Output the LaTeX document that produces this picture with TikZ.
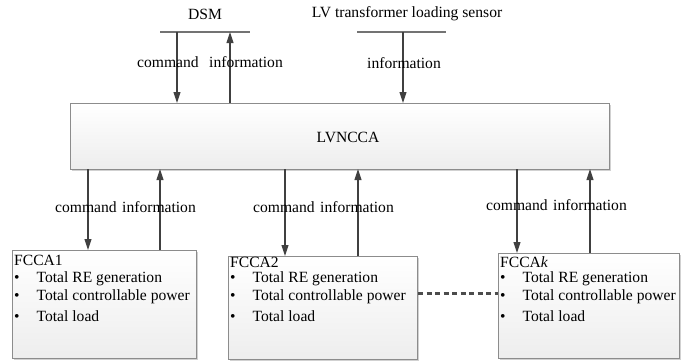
\documentclass[tikz,border=0pt]{standalone}
\usepackage{fontspec}
\setmainfont{Liberation Serif}
\usetikzlibrary{arrows.meta,shadows}
\begin{document}
\begin{tikzpicture}[x=1pt,y=-1pt,
  every node/.style={font=\fontsize{15.6}{18}\selectfont, inner sep=0pt},
  panel/.style={draw=black!45, line width=1pt, top color=white, bottom color=black!7,
    drop shadow={shadow xshift=1.2pt, shadow yshift=-1.2pt, fill=black!30, opacity=0.6}},
  link/.style={draw=black!75, line width=1.1pt, -{Triangle[length=11pt,width=7pt]}},
  bar/.style={draw=black!55, line width=1.2pt},
  lbl/.style={anchor=center},
  item/.style={anchor=west}
]
\useasboundingbox (0,0) rectangle (688,362);

% sources on top
\node (dsm) at (205,14) {DSM};
\node (lvs) at (407,14) {LV transformer loading sensor};
\coordinate (dsmL) at (160,32);
\coordinate (dsmR) at (250,32);
\coordinate (lvsL) at (357,32);
\coordinate (lvsR) at (446,32);
\draw[bar] (dsmL) -- (dsmR);
\draw[bar] (lvsL) -- (lvsR);

% central agent
\node[panel, minimum width=539pt, minimum height=66pt, anchor=north west] (lv) at (70,103) {};
\node (lvtxt) at (348,137) {LVNCCA};

% top links
\coordinate (dsmC) at (177,32);
\coordinate (dsmI) at (230,32);
\coordinate (lvsC) at (403,32);
\draw[link] (dsmC) -- (dsmC |- lv.north);
\draw[link] (dsmI |- lv.north) -- (dsmI);
\draw[link] (lvsC) -- (lvsC |- lv.north);
\node[lbl] (c0) at (168,62) {command};
\node[lbl] (i0) at (246,62) {information};
\node[lbl] (i1) at (404,63) {information};

% feeder agents
\node[panel, minimum width=184pt, minimum height=108pt, anchor=north west] (f1) at (12,250) {};
\node[panel, minimum width=189pt, minimum height=103pt, anchor=north west] (f2) at (228,256) {};
\node[panel, minimum width=181pt, minimum height=105pt, anchor=north west] (fk) at (498,253) {};

% contents of the feeder agents (rows share the same heights)
\foreach \b/\n/\ty in {f1/1/260, f2/2/262, fk/{\textit{k}}/262}{
  \coordinate (\b-x) at ([xshift=2pt]\b.west);
  \coordinate (\b-r0) at (0,\ty);
  \coordinate (\b-r1) at (0,279);
  \coordinate (\b-r2) at (0,297);
  \coordinate (\b-r3) at (0,316);
  \node[item] (\b-t) at (\b-x |- \b-r0) {FCCA\n};
  \node[item] (\b-a) at (\b-x |- \b-r1) {\textbullet\hspace{17pt}Total RE generation};
  \node[item] (\b-b) at (\b-x |- \b-r2) {\textbullet\hspace{17pt}Total controllable power};
  \node[item] (\b-c) at (\b-x |- \b-r3) {\textbullet\hspace{17pt}Total load};
}

% bottom links
\foreach \b/\xc/\xi in {f1/88/160, f2/285/358, fk/517/590}{
  \coordinate (\b-cmd) at (\xc,169);
  \coordinate (\b-inf) at (\xi,169);
  \draw[link] (\b-cmd) -- (\b-cmd |- \b.north);
  \draw[link] (\b-inf |- \b.north) -- (\b-inf);
}
\node[lbl] (c1) at (86,207) {command};
\node[lbl] (i1b) at (159,207) {information};
\node[lbl] (c2) at (284,207) {command};
\node[lbl] (i2) at (357,207) {information};
\node[lbl] (c3) at (517,205) {command};
\node[lbl] (i3) at (590,205) {information};

% chain of further feeders
\coordinate (chain) at (0,293);
\draw[draw=black!70, line width=3pt, dash pattern=on 5pt off 3.5pt] (f2.east |- chain) -- (fk.west |- chain);
\end{tikzpicture}
\end{document}
